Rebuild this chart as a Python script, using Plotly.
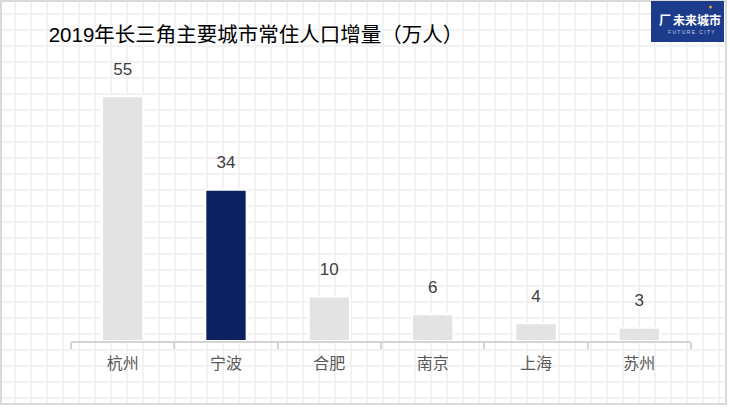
import plotly.graph_objects as go

# ---- data ----
cities = ["杭州", "宁波", "合肥", "南京", "上海", "苏州"]
increase = [55, 34, 10, 6, 4, 3]
highlight_city = "宁波"

title_text = "2019年长三角主要城市常住人口增量（万人）"

W, H = 730, 420
FONT = "Liberation Sans, Noto Sans CJK SC, sans-serif"

gray_bar = "#e3e3e3"
navy_bar = "#0c2160"
colors = [navy_bar if c == highlight_city else gray_bar for c in cities]

fig = go.Figure()

# background grid subplot (x / y) in pixel coordinates
grid_w, grid_h = 727, 405
fig.add_trace(go.Scatter(x=[0], y=[0], mode="markers", marker=dict(opacity=0),
                         hoverinfo="skip", showlegend=False, xaxis="x", yaxis="y"))

# bars on x2/y2
fig.add_trace(go.Bar(
    x=cities, y=increase, xaxis="x2", yaxis="y2",
    marker=dict(color=colors, line=dict(color="white", width=2)),
    width=0.40, hoverinfo="skip", showlegend=False,
))
# value labels
fig.add_trace(go.Scatter(
    x=cities, y=increase, xaxis="x2", yaxis="y2", mode="text+markers",
    marker=dict(size=26, opacity=0),
    text=[str(v) for v in increase], textposition="top center",
    textfont=dict(family=FONT, size=17, color="#404040"),
    cliponaxis=False, hoverinfo="skip", showlegend=False,
))

px_per_unit = 4.45
y_base, y_top = 341, 65
ymax = (y_base - y_top) / px_per_unit

fig.update_layout(
    width=W, height=H,
    margin=dict(l=0, r=0, t=0, b=0),
    paper_bgcolor="white", plot_bgcolor="rgba(0,0,0,0)",
    showlegend=False,
    font=dict(family=FONT),
    xaxis=dict(domain=[0, grid_w / W], range=[0, grid_w], showgrid=True,
               tick0=15, dtick=16, gridcolor="#f2f2f2", gridwidth=2,
               showticklabels=False, ticks="", zeroline=False, showline=False,
               fixedrange=True),
    yaxis=dict(domain=[1 - grid_h / H, 1], range=[grid_h, 0], showgrid=True,
               tick0=14, dtick=16, gridcolor="#f2f2f2", gridwidth=2,
               showticklabels=False, ticks="", zeroline=False, showline=False,
               fixedrange=True),
    xaxis2=dict(domain=[71 / W, 691 / W], anchor="y2", type="category",
                showline=True, linecolor="#d4d4d4", linewidth=2,
                ticks="outside", ticklen=6, tickwidth=2, tickcolor="#d4d4d4",
                tickson="boundaries", showgrid=False, zeroline=False,
                ticklabelstandoff=7,
                tickfont=dict(family=FONT, size=16, color="#595959")),
    yaxis2=dict(domain=[1 - y_base / H, 1 - y_top / H], anchor="x2",
                range=[0, ymax], visible=False, showgrid=False, zeroline=False),
    title=dict(text=title_text, x=256 / W, xanchor="center",
               y=1 - 35 / H, yanchor="middle",
               font=dict(family=FONT, size=20.5, color="#000000")),
)

# border
fig.add_shape(type="rect", xref="x", yref="y", x0=1, y0=1, x1=grid_w - 1, y1=grid_h - 1,
              line=dict(color="#d9d9d9", width=2), fillcolor="rgba(0,0,0,0)", layer="above")

# logo
fig.add_shape(type="rect", xref="x", yref="y", x0=651, y0=1, x1=724, y1=42,
              line=dict(width=0), fillcolor="#1d3b8b", layer="above")
fig.add_annotation(xref="x", yref="y", x=665, y=19, text="<b>厂</b>", showarrow=False,
                   font=dict(family="Noto Sans CJK SC", size=12, color="white"))
fig.add_annotation(xref="x", yref="y", x=697, y=19, text="<b>未来城市</b>", showarrow=False,
                   font=dict(family="Noto Sans CJK SC", size=12, color="white"))
fig.add_annotation(xref="x", yref="y", x=691, y=32, text="F U T U R E   C I T Y", showarrow=False,
                   font=dict(family=FONT, size=5, color="#c8d0e8"))
fig.add_shape(type="circle", xref="x", yref="y", x0=709, y0=5.5, x1=712, y1=8.5,
              line=dict(width=0), fillcolor="#e0a040", layer="above")

fig.write_html("out.html", config={"displayModeBar": False},
               post_script="document.body.style.margin='0px';")
